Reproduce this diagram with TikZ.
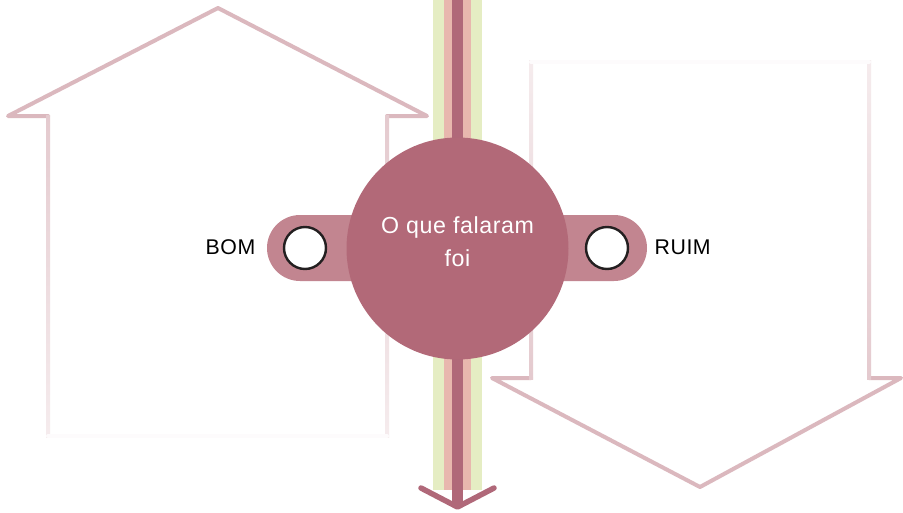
\documentclass[tikz,border=0pt]{standalone}
\usepackage{fontspec}
\setmainfont{Liberation Sans}
\newfontfamily\widesans[LetterSpace=2.5]{Liberation Sans}
\definecolor{arrc}{HTML}{DBB8BE}
\definecolor{greenc}{HTML}{E5EDC3}
\definecolor{pinkc}{HTML}{E8B7AE}
\definecolor{darkc}{HTML}{B06879}
\definecolor{circc}{HTML}{B26978}
\definecolor{tabc}{HTML}{C28590}
\definecolor{ringc}{HTML}{231F20}
\colorlet{arrfaint}{arrc!5}
\colorlet{arrmid}{arrc!45}
\pgfdeclareverticalshading{fadedown}{100bp}{color(0bp)=(arrfaint); color(45bp)=(arrmid); color(100bp)=(arrc)}
\pgfdeclareverticalshading{fadeup}{100bp}{color(0bp)=(arrc); color(55bp)=(arrmid); color(100bp)=(arrfaint)}
\tikzset{
  outline/.style={draw=arrc, line width=4pt, line join=round, line cap=round},
  faintline/.style={draw=arrfaint, line width=4pt, line cap=round},
  ring/.style={circle, fill=white, draw=ringc, line width=2.4pt, minimum size=42pt, inner sep=0pt},
  label/.style={font=\widesans\fontsize{21.3}{25}\selectfont, text=black, inner sep=0pt},
  centertext/.style={font=\widesans\fontsize{23.2}{27}\selectfont, text=white, inner sep=0pt, anchor=base},
  chevron/.style={draw=darkc, line width=5.5pt, line cap=round, line join=round}
}
\begin{document}
\begin{tikzpicture}[x=1pt,y=-1pt]
\useasboundingbox[fill=white] (0,0) rectangle (903,512);
% left up arrow
\draw[outline] (48,116) -- (8,116) -- (218,8) -- (427,116) -- (387,116);
\shade[shading=fadedown] (46,115) rectangle (50,437);
\shade[shading=fadedown] (385,115) rectangle (389,437);
\draw[faintline] (48,436) -- (387,436);
% right down arrow
\draw[outline] (531,378) -- (492,378) -- (700,487) -- (901,378) -- (869,378);
\shade[shading=fadeup] (529,60) rectangle (533,379);
\shade[shading=fadeup] (867,60) rectangle (871,379);
\draw[faintline] (531,62) -- (869,62);
% central stripes
\coordinate (top) at (457.5,0);
\coordinate (tip) at (457.5,507);
\coordinate (cl) at (421,488);
\coordinate (cr) at (494,488);
\fill[greenc] (433,0) rectangle (481.5,490);
\fill[pinkc] (444,0) rectangle (471,490);
\draw[darkc, line width=11pt] (top) -- (tip);
\draw[chevron] (cl) -- (tip) -- (cr);
% tabs
\fill[tabc, rounded corners=33pt] (267,215) rectangle (430,281);
\fill[tabc, rounded corners=33pt] (485,215) rectangle (647,281);
% central circle
\node[circle, fill=circc, minimum size=222pt, inner sep=0pt] (c) at (457.5,248.5) {};
\node[centertext] (t1) at (457.5,233) {O que falaram};
\node[centertext] (t2) at (457.5,266) {foi};
% rings
\node[ring] (lc) at (305,248) {};
\node[ring] (rc) at (607,248) {};
\node[label, anchor=base east] (bom) at (255.5,254.5) {BOM};
\node[label, anchor=base west] (ruim) at (654.5,254.5) {RUIM};
\end{tikzpicture}
\end{document}
